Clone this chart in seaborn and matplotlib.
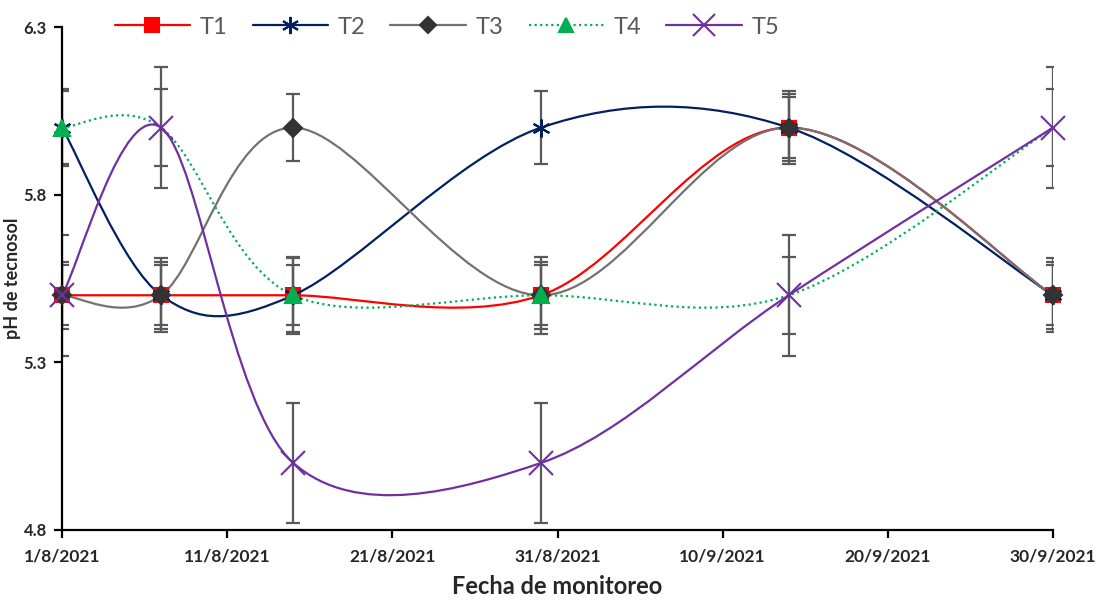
import numpy as np
import pandas as pd
import seaborn as sns
import matplotlib
matplotlib.use("Agg")
import matplotlib.pyplot as plt
import matplotlib.dates as mdates
from matplotlib.path import Path
from matplotlib.patches import PathPatch
from matplotlib.lines import Line2D
from matplotlib.ticker import FuncFormatter

# data
fechas = pd.to_datetime(["2021-08-01", "2021-08-07", "2021-08-15",
                         "2021-08-30", "2021-09-14", "2021-09-30"])
t1 = [5.5, 5.5, 5.5, 5.5, 6.0, 5.5]
t2 = [6.0, 5.5, 5.5, 6.0, 6.0, 5.5]
t3 = [5.5, 5.5, 6.0, 5.5, 6.0, 5.5]
t4 = [6.0, 6.0, 5.5, 5.5, 5.5, 6.0]
t5 = [5.5, 6.0, 5.0, 5.0, 5.5, 6.0]
err = {"T1": 0.09, "T2": 0.11, "T3": 0.10, "T4": 0.115, "T5": 0.18}
yticks = [4.8, 5.3, 5.8, 6.3]

series = {"T1": t1, "T2": t2, "T3": t3, "T4": t4, "T5": t5}
style = {
    "T1": dict(color="#FF0000", marker="s", ms=10, mfc="#FF0000", mec="#FF0000", ls="-"),
    "T2": dict(color="#002060", marker=(6, 2, 0), ms=13, mfc="none", mec="#002060", ls="-"),
    "T3": dict(color="#767171", marker="D", ms=9, mfc="#333333", mec="#333333", ls="-"),
    "T4": dict(color="#00B050", marker="^", ms=11, mfc="#00B050", mec="#00B050", ls=(0, (1, 1.5))),
    "T5": dict(color="#7030A0", marker="x", ms=17, mfc="none", mec="#7030A0", ls="-"),
}
# T4 only shows markers on some dates in the original
mark_every = {"T4": [0, 2, 3]}


def smooth_path(xs, ys):
    # excel-like smoothed line (catmull-rom as bezier)
    pts = np.column_stack([xs, ys])
    n = len(pts)
    verts = [pts[0]]
    codes = [Path.MOVETO]
    for i in range(n - 1):
        p0 = pts[max(i - 1, 0)]
        p1 = pts[i]
        p2 = pts[i + 1]
        p3 = pts[min(i + 2, n - 1)]
        verts += [p1 + (p2 - p0) / 6, p2 - (p3 - p1) / 6, p2]
        codes += [Path.CURVE4] * 3
    return Path(verts, codes)


sns.set_style("white")
plt.rcParams["font.family"] = ["Lato", "DejaVu Sans"]

fig = plt.figure(figsize=(11.02, 6.06), dpi=100)
ax = fig.add_axes([62 / 1102, 1 - 530 / 606, 991 / 1102, 503 / 606])

xnum = mdates.date2num(fechas)
handles = []
for name, vals in series.items():
    st = style[name]
    ax.errorbar(fechas, vals, yerr=err[name], fmt="none", ecolor="#595959",
                elinewidth=1.6, capsize=5, capthick=1.6, zorder=2)
    ax.add_patch(PathPatch(smooth_path(xnum, vals), facecolor="none",
                           edgecolor=st["color"], lw=1.6, linestyle=st["ls"], zorder=3))
    sns.lineplot(x=fechas, y=vals, ax=ax, linestyle="", marker=st["marker"],
                 markersize=st["ms"], markerfacecolor=st["mfc"],
                 markeredgecolor=st["mec"], markeredgewidth=1.5,
                 markevery=mark_every.get(name),
                 color=st["color"], zorder=4, legend=False, clip_on=False)
    handles.append(Line2D([], [], color=st["color"], lw=1.6, linestyle=st["ls"],
                          marker=st["marker"], markersize=st["ms"] * 0.95,
                          markerfacecolor=st["mfc"], markeredgecolor=st["mec"],
                          markeredgewidth=1.5, label=name))

ax.set_xlim(pd.Timestamp("2021-08-01"), pd.Timestamp("2021-09-30"))
ax.set_ylim(4.8, 6.3)
ax.set_yticks(yticks)
ax.set_xticks(pd.date_range("2021-08-01", "2021-09-30", freq="10D"))
ax.xaxis.set_major_formatter(FuncFormatter(
    lambda v, p: f"{mdates.num2date(v).day}/{mdates.num2date(v).month}/{mdates.num2date(v).year}"))
ax.yaxis.set_major_formatter(FuncFormatter(lambda v, p: f"{v:.1f}"))

for s in ["top", "right"]:
    ax.spines[s].set_visible(False)
for s in ["left", "bottom"]:
    ax.spines[s].set_color("black")
    ax.spines[s].set_linewidth(1.6)
ax.tick_params(axis="both", direction="out", length=6, width=1.6, color="black",
               bottom=True, left=True)
ax.tick_params(axis="x", labelsize=12.5, pad=7)
ax.tick_params(axis="y", labelsize=12, pad=5)
for lab in ax.get_xticklabels() + ax.get_yticklabels():
    lab.set_fontweight("bold")

ax.set_xlabel("Fecha de monitoreo", fontsize=17, fontweight="bold", labelpad=8)
ax.set_ylabel("pH de tecnosol", fontsize=13, fontweight="bold", labelpad=2)
ax.grid(False)

leg = ax.legend(handles=handles, loc="center left", bbox_to_anchor=(0.053, 1.0),
                ncol=5, frameon=False, fontsize=17, handlelength=3.2,
                handletextpad=0.42, columnspacing=1.05, borderaxespad=0, borderpad=0)
for t in leg.get_texts():
    t.set_color("#595959")

fig.savefig("out.png", dpi=100)
